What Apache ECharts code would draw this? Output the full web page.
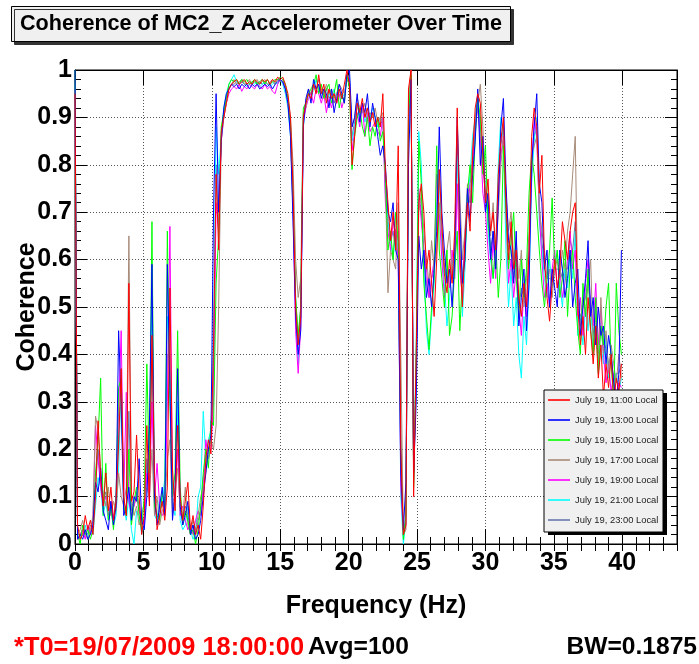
<!DOCTYPE html>
<html><head><meta charset="utf-8">
<script src="https://cdn.jsdelivr.net/npm/echarts@6/dist/echarts.min.js"></script>
<style>html,body{margin:0;padding:0;background:#fff}#c{width:699px;height:664px}</style>
</head><body><div id="c"></div>
<script>
// Frequency bin width (Hz) as printed on the chart; bins are i*BW
const BW = 0.1875;
const titleText = 'Coherence of MC2_Z Accelerometer Over Time';
const names = ['July 19, 11:00 Local','July 19, 13:00 Local','July 19, 15:00 Local','July 19, 17:00 Local','July 19, 19:00 Local','July 19, 21:00 Local','July 19, 23:00 Local'];
const colors = ['#ff0000','#0000ff','#00ff00','#a88a78','#ff00ff','#00ffff','#6878aa'];

const c1100 = [
0.95,0.04,0.01,0.02,0.06,0.03,0.05,0.02,0.10,0.26,
0.14,0.08,0.15,0.07,0.12,0.05,0.09,0.21,0.37,0.10,
0.06,0.55,0.09,0.11,0.23,0.10,0.02,0.06,0.25,0.08,
0.44,0.14,0.03,0.06,0.09,0.05,0.12,0.54,0.16,0.07,
0.25,0.10,0.05,0.09,0.13,0.03,0.06,0.02,0.04,0.01,
0.08,0.18,0.22,0.19,0.42,0.78,0.62,0.87,0.90,0.93,
0.96,0.97,0.975,0.98,0.97,0.975,0.98,0.97,0.975,0.97,
0.98,0.975,0.97,0.98,0.975,0.98,0.97,0.98,0.975,0.985,
0.98,0.985,0.97,0.95,0.90,0.75,0.50,0.42,0.48,0.90,
0.93,0.95,0.94,0.97,0.95,0.99,0.95,0.97,0.93,0.96,
0.94,0.95,0.93,0.96,0.94,0.97,1.00,0.97,0.80,0.86,
0.93,0.91,0.94,0.90,0.92,0.89,0.91,0.88,0.90,0.88,
0.95,0.79,0.72,0.64,0.70,0.62,0.84,0.20,0.02,0.04,
0.96,1.00,0.10,0.40,0.72,0.76,0.70,0.58,0.62,0.55,
0.48,0.60,0.79,0.68,0.57,0.53,0.60,0.55,0.66,0.92,
0.62,0.50,0.64,0.72,0.66,0.82,0.92,0.95,0.93,0.82,
0.72,0.77,0.66,0.70,0.62,0.78,0.85,0.90,0.72,0.60,
0.68,0.58,0.62,0.52,0.48,0.55,0.50,0.62,0.86,0.92,
0.88,0.74,0.82,0.60,0.52,0.47,0.55,0.60,0.54,0.58,
0.68,0.64,0.60,0.66,0.70,0.72,0.50,0.42,0.48,0.40,
0.52,0.45,0.38,0.46,0.35,0.42,0.31,0.38,0.33,0.40,
0.30,0.35,0.32,0.38];

const c1300 = [
1.00,0.01,0.02,0.01,0.03,0.01,0.02,0.04,0.13,0.11,
0.16,0.07,0.05,0.03,0.09,0.04,0.08,0.45,0.30,0.06,
0.08,0.12,0.05,0.10,0.09,0.18,0.05,0.03,0.10,0.25,
0.59,0.10,0.04,0.08,0.12,0.06,0.59,0.33,0.05,0.11,
0.37,0.08,0.04,0.06,0.09,0.02,0.04,0.01,0.02,0.05,
0.10,0.15,0.20,0.23,0.70,0.95,0.70,0.85,0.92,0.95,
0.96,0.97,0.965,0.97,0.96,0.97,0.965,0.97,0.96,0.97,
0.965,0.97,0.96,0.965,0.97,0.965,0.97,0.96,0.97,0.975,
0.98,0.975,0.96,0.93,0.86,0.68,0.48,0.40,0.45,0.88,
0.94,0.96,0.93,0.98,0.96,0.97,0.94,0.96,0.95,0.92,
0.96,0.91,0.94,0.97,0.95,0.93,0.99,1.00,0.88,0.90,
0.95,0.89,0.93,0.91,0.95,0.88,0.93,0.90,0.86,0.82,
0.84,0.80,0.70,0.68,0.72,0.62,0.60,0.15,0.03,0.13,
0.80,0.98,0.15,0.30,0.65,0.58,0.62,0.52,0.56,0.50,
0.58,0.66,0.88,0.70,0.62,0.55,0.58,0.50,0.60,0.90,
0.70,0.55,0.60,0.75,0.68,0.78,0.85,0.96,0.80,0.86,
0.70,0.74,0.60,0.66,0.58,0.72,0.88,0.94,0.76,0.64,
0.62,0.55,0.66,0.46,0.52,0.58,0.45,0.55,0.80,0.88,
0.95,0.76,0.72,0.58,0.62,0.50,0.58,0.54,0.50,0.62,
0.58,0.52,0.56,0.62,0.50,0.55,0.58,0.44,0.50,0.56,
0.64,0.48,0.52,0.42,0.50,0.44,0.46,0.38,0.44,0.40,
0.34,0.30,0.36,0.62];

const c1500 = [
1.00,0.02,0.00,0.04,0.02,0.03,0.01,0.03,0.15,0.22,
0.35,0.06,0.17,0.05,0.08,0.03,0.10,0.33,0.35,0.08,
0.06,0.20,0.04,0.09,0.12,0.06,0.03,0.10,0.38,0.15,
0.68,0.08,0.06,0.05,0.11,0.08,0.66,0.30,0.10,0.15,
0.45,0.12,0.04,0.07,0.05,0.02,0.03,0.00,0.03,0.08,
0.15,0.20,0.16,0.26,0.25,0.55,0.65,0.88,0.91,0.94,
0.97,0.98,0.975,0.98,0.97,0.98,0.975,0.98,0.97,0.975,
0.98,0.97,0.975,0.98,0.97,0.98,0.97,0.975,0.98,0.98,
0.985,0.98,0.97,0.94,0.88,0.72,0.52,0.44,0.50,0.92,
0.93,0.95,0.96,0.97,0.99,0.95,0.97,0.94,0.96,0.97,
0.93,0.95,0.98,0.92,0.95,0.93,0.99,0.96,0.79,0.86,
0.90,0.92,0.88,0.86,0.90,0.84,0.88,0.86,0.90,0.85,
0.87,0.78,0.62,0.66,0.60,0.70,0.64,0.18,0.01,0.06,
0.90,0.99,0.12,0.40,0.85,0.76,0.55,0.48,0.41,0.50,
0.56,0.84,0.62,0.56,0.50,0.62,0.44,0.48,0.58,0.66,
0.45,0.56,0.60,0.74,0.80,0.72,0.86,0.94,0.90,0.78,
0.84,0.68,0.62,0.56,0.64,0.52,0.60,0.84,0.70,0.58,
0.64,0.70,0.56,0.48,0.60,0.52,0.58,0.74,0.82,0.78,
0.70,0.62,0.55,0.50,0.56,0.62,0.73,0.58,0.62,0.52,
0.56,0.64,0.48,0.58,0.62,0.52,0.45,0.40,0.55,0.48,
0.58,0.45,0.40,0.52,0.36,0.46,0.42,0.50,0.55,0.38,
0.30,0.55,0.45,0.40];

const c1700 = [
0.98,0.02,0.03,0.05,0.02,0.01,0.03,0.06,0.27,0.24,
0.16,0.10,0.08,0.12,0.06,0.09,0.07,0.15,0.10,0.08,
0.12,0.65,0.10,0.06,0.08,0.04,0.06,0.09,0.12,0.10,
0.20,0.06,0.10,0.04,0.07,0.08,0.18,0.22,0.06,0.12,
0.16,0.07,0.06,0.12,0.04,0.02,0.05,0.03,0.06,0.10,
0.12,0.15,0.20,0.22,0.20,0.25,0.50,0.85,0.90,0.93,
0.96,0.97,0.98,0.97,0.975,0.98,0.97,0.975,0.98,0.97,
0.975,0.98,0.97,0.975,0.98,0.97,0.975,0.98,0.97,0.98,
0.975,0.98,0.965,0.94,0.90,0.80,0.60,0.52,0.56,0.91,
0.92,0.96,0.95,0.97,0.96,0.98,0.96,0.95,0.97,0.95,
0.96,0.94,0.95,0.97,0.96,0.95,0.98,0.97,0.88,0.90,
0.94,0.92,0.91,0.93,0.90,0.91,0.90,0.92,0.89,0.90,
0.91,0.76,0.53,0.62,0.60,0.58,0.72,0.40,0.02,0.03,
0.94,1.00,0.14,0.35,0.70,0.74,0.66,0.60,0.55,0.64,
0.58,0.62,0.72,0.65,0.58,0.62,0.66,0.56,0.62,0.88,
0.74,0.60,0.66,0.76,0.72,0.84,0.90,0.93,0.97,0.88,
0.74,0.70,0.65,0.72,0.60,0.70,0.80,0.86,0.74,0.66,
0.70,0.60,0.64,0.56,0.62,0.50,0.56,0.66,0.82,0.84,
0.86,0.70,0.66,0.62,0.56,0.58,0.52,0.58,0.60,0.56,
0.62,0.58,0.66,0.70,0.78,0.86,0.52,0.46,0.52,0.48,
0.55,0.60,0.42,0.48,0.38,0.52,0.40,0.45,0.36,0.42,
0.38,0.34,0.40,0.35];

const c1900 = [
0.96,0.01,0.02,0.03,0.01,0.04,0.02,0.05,0.25,0.18,
0.12,0.08,0.10,0.06,0.09,0.05,0.10,0.28,0.45,0.10,
0.32,0.09,0.06,0.08,0.10,0.07,0.05,0.04,0.15,0.09,
0.30,0.10,0.17,0.08,0.06,0.07,0.30,0.67,0.12,0.09,
0.20,0.06,0.08,0.05,0.03,0.04,0.02,0.05,0.07,0.06,
0.12,0.22,0.18,0.20,0.30,0.72,0.66,0.85,0.90,0.93,
0.95,0.96,0.965,0.96,0.97,0.955,0.965,0.96,0.97,0.965,
0.96,0.97,0.965,0.96,0.97,0.96,0.965,0.955,0.95,0.97,
0.98,0.975,0.96,0.93,0.87,0.70,0.45,0.36,0.46,0.89,
0.92,0.94,0.95,0.93,0.96,0.95,0.93,0.95,0.91,0.94,
0.92,0.95,0.93,0.95,0.92,0.94,0.99,0.98,0.83,0.87,
0.91,0.88,0.93,0.86,0.91,0.87,0.88,0.89,0.87,0.86,
0.90,0.72,0.66,0.62,0.68,0.66,0.60,0.12,0.02,0.04,
0.88,0.99,0.16,0.36,0.75,0.68,0.62,0.58,0.52,0.56,
0.60,0.78,0.70,0.60,0.52,0.58,0.54,0.62,0.56,0.76,
0.58,0.52,0.66,0.70,0.76,0.80,0.88,0.92,0.86,0.74,
0.70,0.62,0.55,0.64,0.56,0.74,0.82,0.86,0.70,0.55,
0.60,0.52,0.58,0.50,0.44,0.54,0.48,0.60,0.78,0.90,
0.86,0.70,0.60,0.52,0.55,0.50,0.58,0.62,0.54,0.58,
0.52,0.55,0.60,0.66,0.58,0.62,0.48,0.52,0.44,0.55,
0.60,0.50,0.46,0.55,0.42,0.50,0.40,0.34,0.38,0.32,
0.36,0.30,0.34,0.33];

const c2100 = [
0.97,0.03,0.01,0.02,0.04,0.01,0.03,0.02,0.08,0.14,
0.12,0.06,0.09,0.05,0.07,0.04,0.06,0.16,0.35,0.08,
0.05,0.10,0.03,0.00,0.07,0.06,0.02,0.04,0.14,0.20,
0.52,0.06,0.05,0.10,0.08,0.14,0.48,0.35,0.08,0.06,
0.30,0.05,0.03,0.04,0.08,0.03,0.01,0.02,0.10,0.12,
0.28,0.18,0.22,0.24,0.45,0.88,0.78,0.86,0.92,0.95,
0.97,0.98,0.99,0.975,0.97,0.98,0.97,0.965,0.97,0.975,
0.97,0.975,0.965,0.97,0.975,0.97,0.965,0.97,0.975,0.97,
0.98,0.97,0.95,0.92,0.86,0.70,0.50,0.38,0.48,0.88,
0.93,0.95,0.94,0.96,0.98,0.96,0.95,0.96,0.94,0.95,
0.94,0.96,0.93,0.96,0.94,0.95,0.98,0.99,0.85,0.88,
0.93,0.90,0.92,0.89,0.91,0.90,0.92,0.90,0.88,0.90,
0.89,0.74,0.68,0.64,0.60,0.66,0.62,0.10,0.00,0.05,
0.85,0.98,0.14,0.42,0.87,0.80,0.58,0.45,0.40,0.48,
0.55,0.72,0.79,0.62,0.55,0.46,0.52,0.60,0.56,0.82,
0.66,0.48,0.58,0.72,0.78,0.86,0.90,0.95,0.84,0.80,
0.76,0.66,0.60,0.56,0.62,0.80,0.90,0.86,0.62,0.50,
0.58,0.46,0.52,0.40,0.35,0.48,0.42,0.55,0.76,0.85,
0.90,0.68,0.62,0.56,0.52,0.60,0.54,0.58,0.62,0.55,
0.50,0.58,0.54,0.62,0.56,0.66,0.44,0.48,0.42,0.50,
0.45,0.52,0.40,0.46,0.36,0.42,0.38,0.44,0.35,0.40,
0.33,0.36,0.32,0.35];

const c2300 = [
0.97,0.02,0.02,0.03,0.03,0.02,0.04,0.03,0.12,0.20,
0.13,0.09,0.11,0.07,0.08,0.05,0.09,0.22,0.32,0.09,
0.07,0.28,0.07,0.08,0.11,0.08,0.04,0.05,0.18,0.12,
0.42,0.09,0.06,0.07,0.09,0.07,0.40,0.40,0.09,0.10,
0.28,0.08,0.05,0.08,0.06,0.03,0.04,0.02,0.05,0.07,
0.14,0.17,0.20,0.21,0.35,0.80,0.66,0.86,0.90,0.94,
0.96,0.97,0.97,0.975,0.97,0.975,0.97,0.97,0.975,0.97,
0.975,0.97,0.975,0.97,0.975,0.97,0.97,0.975,0.97,0.98,
0.98,0.975,0.96,0.935,0.88,0.72,0.52,0.43,0.50,0.90,
0.93,0.95,0.95,0.97,0.96,0.97,0.95,0.95,0.96,0.94,
0.95,0.93,0.95,0.96,0.94,0.94,0.99,0.98,0.86,0.89,
0.93,0.90,0.92,0.90,0.92,0.89,0.91,0.90,0.88,0.88,
0.90,0.76,0.68,0.64,0.66,0.62,0.66,0.22,0.02,0.06,
0.90,0.99,0.13,0.38,0.74,0.70,0.62,0.55,0.52,0.56,
0.58,0.70,0.78,0.64,0.58,0.56,0.58,0.56,0.60,0.84,
0.66,0.56,0.62,0.74,0.72,0.80,0.88,0.94,0.88,0.82,
0.74,0.70,0.62,0.66,0.60,0.74,0.84,0.88,0.72,0.62,
0.66,0.56,0.60,0.50,0.54,0.52,0.50,0.62,0.80,0.86,
0.88,0.72,0.64,0.58,0.56,0.56,0.56,0.58,0.58,0.58,
0.56,0.58,0.58,0.64,0.62,0.68,0.50,0.48,0.50,0.52,
0.56,0.50,0.44,0.50,0.40,0.46,0.40,0.42,0.38,0.40,
0.34,0.36,0.36,0.38];

const allValues = [c1100, c1300, c1500, c1700, c1900, c2100, c2300];

const FONT = 'Liberation Sans';
const chart = echarts.init(document.getElementById('c'), null, {renderer: 'canvas'});

const toPairs = arr => arr.map((v, i) => [i * BW, v]);
// draw the later hours first so that the 11:00 trace ends up on top
const series = [];
for (let k = allValues.length - 1; k >= 0; k--) {
  series.push({
    name: names[k], type: 'line', xAxisIndex: 0, yAxisIndex: 0,
    data: toPairs(allValues[k]), showSymbol: false, symbol: 'none',
    lineStyle: {color: colors[k], width: 1}, itemStyle: {color: colors[k]},
    animation: false, clip: true
  });
}

const dotted = {show: true, lineStyle: {color: '#555', type: [1, 2], width: 1}};
const hiddenLabel = {show: false};
const tickFont = {fontFamily: FONT, fontWeight: 'bold', fontSize: 25, color: '#000'};

const option = {
  animation: false,
  backgroundColor: '#fff',
  title: {
    text: titleText, left: 11, top: 6,
    padding: [7, 9, 7, 9],
    backgroundColor: '#f0f0f0', borderColor: '#000', borderWidth: 1,
    shadowColor: '#333', shadowOffsetX: 3, shadowOffsetY: 3, shadowBlur: 0,
    textStyle: {fontFamily: FONT, fontWeight: 'bold', fontSize: 21.6, color: '#000', lineHeight: 22}
  },
  grid: {left: 75, right: 22, top: 70, bottom: 120, show: true, borderColor: '#000', borderWidth: 1, backgroundColor: 'transparent'},
  legend: {
    orient: 'vertical', left: 548, top: 395, padding: 0,
    icon: 'rect', itemWidth: 22, itemHeight: 1.6, itemGap: 10,
    data: names,
    textStyle: {fontFamily: FONT, fontSize: 9.4, color: '#222', lineHeight: 10},
    z: 6
  },
  xAxis: [
    {type: 'value', min: 0, max: 44, interval: 5, position: 'bottom',
     name: 'Frequency (Hz)', nameLocation: 'middle', nameGap: 50, nameMoveOverlap: false,
     nameTextStyle: {fontFamily: FONT, fontWeight: 'bold', fontSize: 25, color: '#000'},
     axisLine: {show: true, onZero: false, lineStyle: {color: '#000', width: 1}},
     axisTick: {show: true, inside: true, length: 15, lineStyle: {color: '#000'}},
     axisLabel: Object.assign({show: true, margin: 7, showMaxLabel: false}, tickFont),
     splitLine: dotted},
    {type: 'value', min: 0, max: 44, interval: 1, position: 'bottom',
     axisLine: {show: false}, axisTick: {show: true, inside: true, length: 7, lineStyle: {color: '#000'}},
     axisLabel: hiddenLabel, splitLine: {show: false}},
    {type: 'value', min: 0, max: 44, interval: 5, position: 'top',
     axisLine: {show: true, onZero: false, lineStyle: {color: '#000'}},
     axisTick: {show: true, inside: true, length: 15, lineStyle: {color: '#000'}},
     axisLabel: hiddenLabel, splitLine: {show: false}},
    {type: 'value', min: 0, max: 44, interval: 1, position: 'top',
     axisLine: {show: false}, axisTick: {show: true, inside: true, length: 7, lineStyle: {color: '#000'}},
     axisLabel: hiddenLabel, splitLine: {show: false}}
  ],
  yAxis: [
    {type: 'value', min: 0, max: 1, interval: 0.1, position: 'left',
     name: 'Coherence', nameLocation: 'middle', nameGap: 35, nameMoveOverlap: false,
     nameTextStyle: {fontFamily: FONT, fontWeight: 'bold', fontSize: 25, color: '#000'},
     axisLine: {show: true, onZero: false, lineStyle: {color: '#000'}},
     axisTick: {show: true, inside: true, length: 12, lineStyle: {color: '#000'}},
     minorTick: {show: true, splitNumber: 5, length: 6, lineStyle: {color: '#000'}},
     axisLabel: Object.assign({show: true, margin: 3, formatter: v => (Math.round(v * 10) / 10).toString()}, tickFont),
     splitLine: dotted},
    {type: 'value', min: 0, max: 1, interval: 0.1, position: 'right',
     axisLine: {show: true, onZero: false, lineStyle: {color: '#000'}},
     axisTick: {show: true, inside: true, length: 12, lineStyle: {color: '#000'}},
     minorTick: {show: true, splitNumber: 5, length: 6, lineStyle: {color: '#000'}},
     axisLabel: hiddenLabel, splitLine: {show: false}}
  ],
  graphic: [
    {type: 'rect', z: 5, shape: {x: 548, y: 393, width: 119, height: 142}, style: {fill: '#000'}},
    {type: 'rect', z: 5, shape: {x: 544, y: 390, width: 119, height: 142}, style: {fill: '#f0f0f0', stroke: '#000', lineWidth: 1}},
    {type: 'text', left: 14, top: 635, style: {text: '*T0=19/07/2009 18:00:00', fill: '#ff0000', font: 'bold 25.4px "Liberation Sans"'}},
    {type: 'text', left: 308, top: 635, style: {text: 'Avg=100', fill: '#000', font: 'bold 24.6px "Liberation Sans"'}},
    {type: 'text', right: 2, top: 635, style: {text: 'BW=0.1875', fill: '#000', font: 'bold 24.6px "Liberation Sans"'}}
  ],
  series: series
};
chart.setOption(option);
</script>
</body></html>
